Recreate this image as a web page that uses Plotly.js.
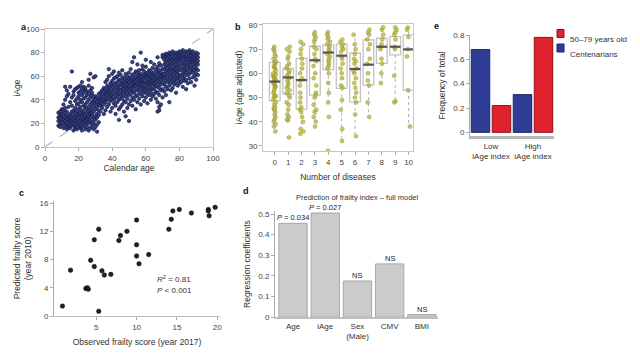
<!DOCTYPE html>
<html><head><meta charset="utf-8">
<script src="https://cdn.plot.ly/plotly-3.0.1.min.js"></script>
<style>html,body{margin:0;padding:0;background:#fff}#chart{width:640px;height:355px}</style>
</head><body><div id="chart"></div>
<script>
// ---------- Panel a: calendar age vs iAge (columns: [calendar age, iAge values...]) ----------
const ageColumns = [
 [8,18,22,25,29],[9,17,20,24,27,30],[10,19,23,26,21,28,32],[11,16,20,24,27,36,31],
 [12,18,22,25,29,40,33,51],[13,15,19,21,24,26,30,43,48],[14,17,20,23,27,34,45],
 [15,16,18,22,25,28,38,51],[16,19,21,24,26,30,35,64,42],[17,14,18,20,23,27,31,44,47],
 [18,16,19,22,25,29,33,39,49],[19,15,17,21,24,26,30,36,41,50],[20,18,20,23,25,28,32,37,43,46,51],
 [21,16,19,22,27,29,34,40,47,52],[22,14,17,21,24,26,31,38,44,49,55],[23,18,20,23,28,30,35,41,46,51],
 [24,15,19,22,25,27,33,36,42,48,50],[25,17,21,24,29,32,38,44,47],[26,14,20,23,26,30,34,40,45,52,57],
 [27,16,22,25,28,31,36,42,48,62],[28,18,21,27,29,33,38,44,50,46],[29,15,20,24,30,35,39,41,59],
 [30,17,23,26,32,37,40,43,60],[31,13,19,25,28,34,38,42],[32,21,27,31,36,40,45],
 [33,30,35,38,42,46],[34,33,37,40,44,48],[35,28,36,39,43,47,50],[36,31,38,41,45,49,55],
 [37,34,40,44,47,52,57],[38,36,42,45,48,50,60,66],[39,30,39,43,46,51,54],[40,33,41,44,48,52,56,62],
 [41,37,40,45,49,53,58,64],[42,28,35,42,46,50,54,59],[43,38,43,47,51,55,60],[44,23,32,40,45,49,52,57,63],
 [45,34,41,44,48,53,56,61],[46,36,42,46,50,54,58,65],[47,30,39,45,49,52,55,59],[48,26,38,43,47,51,54,57,62],
 [49,33,41,46,50,53,56,60],[50,22,36,44,48,51,55,58,63],[51,39,45,49,52,56,59,66],[52,35,42,47,50,54,57,61,72],
 [53,40,46,51,53,55,58,62,76],[54,32,43,48,52,56,59,64],[55,38,44,49,53,57,60,63,70],[56,41,47,51,54,58,61,65],
 [57,36,45,50,53,56,59,62,80],[58,43,48,52,55,57,60,66,69],[59,39,46,50,54,58,61,64],[60,42,47,51,55,59,62,68,74],
 [61,37,45,49,53,56,60,63],[62,44,48,52,55,58,61,65],[63,40,46,50,54,57,60,64,72],[64,43,49,53,56,59,62,67],
 [65,45,50,54,57,60,63,70],[66,41,47,52,55,58,61,66],[67,30,38,46,51,56,59,64,68,76],[68,31,34,44,50,54,58,62,65,71],
 [69,36,48,53,57,60,63,69],[70,42,49,55,59,61,62,66,76,78],
 [71,47,53,58,62,66,70,74,77],[72,44,51,56,60,64,68,72,76,79],[73,49,55,59,63,67,71,75,78],
 [74,38,52,57,61,65,69,73,77,80],[75,48,54,58,62,66,70,74,76,79],[76,50,56,60,64,67,71,73,78,81],
 [77,53,57,61,65,68,72,75,79],[78,46,55,59,63,66,70,74,77,80],[79,52,58,62,64,68,72,76,79],
 [80,54,57,60,66,69,73,75,78,81],[81,55,61,65,70,74,77,80],[82,51,58,62,67,71,75,78,82],
 [83,56,60,64,68,72,76,79],[84,49,57,63,66,70,74,77,81],[85,54,61,65,69,73,76,80],
 [86,58,62,67,71,75,78,82],[87,55,64,68,72,74,77,80],[88,59,63,66,70,73,76,79,81],
 [89,52,60,65,69,72,75,78],[90,57,62,67,71,74,77,80],[91,61,65,70,73,76,79]
];

// ---------- Panel b: iAge (age adjusted) by number of diseases ----------
const diseaseCounts = [0,1,2,3,4,5,6,7,8,9,10];
const bPoints = [
 [71,70,69.5,68,67,66,65,64.5,64,63,62,61,60,59.5,59,58,57.5,57,56.5,56,55,54.5,54,53,52,51,50.5,50,49,48,47,46,45.5,45,44,43,42,41,40,39,38,36,62.5,58.5,55.5],
 [71,70,69,67,66,64,63,62,61,60,59,58,57,56,55,54,53,52,51,50,48,47,45,43,42,41,40.5,33.5],
 [73,72,70,68,66,64,62,60,58,57,55,52,50,48,46,45,44,42,40,36,35,37],
 [77,76,75,74,73,71,70,68,66,65,63,60,58,55,52,51,50,47,45,44,42,40,38],
 [77,76,75,74,73,72,71,70,69,68,67,66,65,64,63,62,60,56,52,48,42,28],
 [74,73,72,71,70,69,67,66,64,62,60,58,55,54,49,45,37,32],
 [76,72,70,68,66,65,64,62,61,60,58,56,54,52,50,48,43,34],
 [78,77,76,74,72,70,66,64,60,57,55,48,42],
 [79,78,76,74,72,71,70,66,64,60,56],
 [79,78,77,76,74,71,70,59,48.5,48],
 [79,78,75,70,67,53,38]
];
const bQ1     = [48.7,51.4,45.1,51.0,61.5,53.8,48.2,55.1,64.1,67.6,53.1];
const bMedian = [56.6,58.3,57.2,65.4,68.6,67.3,61.8,63.6,71.0,71.0,69.9];
const bQ3     = [64.5,62.0,66.2,71.2,71.8,72.1,68.3,73.8,74.5,75.2,75.9];
const bWhiskLo= [36,40.5,35,38,48,32,34,42,56,48.5,38];
const bWhiskHi= [71,71,73,77,77,74,76,78,79,79,79];

// ---------- Panel e: frequency of total ----------
const eCategories = ['Low<br>iAge index','High<br>iAge index'];
const eCentenarians = [0.68,0.31];
const eMiddleAged = [0.22,0.78];

// ---------- Panel c: observed vs predicted frailty ----------
const frailObserved  = [0.8,1.8,3.7,3.9,4.0,4.3,4.75,4.75,5.3,5.3,5.7,6.0,6.8,7.8,8.0,8.8,10.0,10.0,10.0,10.3,11.5,14.0,14.3,14.5,15.3,16.8,18.9,18.9,19.0,19.75];
const frailPredicted = [1.4,6.5,3.9,4.0,3.8,7.9,7.0,10.8,12.3,0.66,6.4,5.8,5.9,10.7,11.4,12.0,13.6,10.1,8.5,7.4,8.7,12.3,13.7,14.9,15.1,14.6,15.1,14.9,14.2,15.4];

// ---------- Panel d: regression coefficients ----------
const dCategories = ['Age','iAge','Sex<br>(Male)','CMV','BMI'];
const dCoefficients = [0.455,0.505,0.175,0.258,0.012];
const dLabels = ['<i>P</i> = 0.034','<i>P</i> = 0.027','NS','NS','NS'];

// ---------- build ----------
const FONT = 'Liberation Sans, Arial, sans-serif';
const W = 640, H = 355;
const px = v => v / W, py = v => 1 - v / H;

const aX = [], aY = [];
ageColumns.forEach(col => { for (let i = 1; i < col.length; i++) { aX.push(col[0]); aY.push(col[i]); } });

const bX = [], bY = [];
bPoints.forEach((arr, k) => arr.forEach(v => { bX.push(diseaseCounts[k]); bY.push(v); }));

const medX = [], medY = [], whX = [], whY = [];
diseaseCounts.forEach((k, i) => {
  medX.push(k - 0.4, k + 0.4, null); medY.push(bMedian[i], bMedian[i], null);
  whX.push(k, k, null, k, k, null);
  whY.push(bQ3[i], bWhiskHi[i], null, bQ1[i], bWhiskLo[i], null);
});

const tickFont = {family: FONT, size: 8, color: '#444'};
const titleFont = {family: FONT, size: 8.5, color: '#333'};

const traces = [
  // a
  {type:'scatter', mode:'lines', x:[0,100], y:[0,100], xaxis:'x', yaxis:'y',
   line:{color:'#b5b5b5', width:1.2, dash:'dash'}, hoverinfo:'skip'},
  {type:'scatter', mode:'markers', x:aX, y:aY, xaxis:'x', yaxis:'y',
   marker:{size:3.4, color:'#3a4583', line:{color:'#0f1545', width:0.7}}},
  // b
  {type:'scatter', mode:'lines', x:whX, y:whY, xaxis:'x2', yaxis:'y2',
   line:{color:'#b0b0b0', width:1, dash:'dot'}, hoverinfo:'skip'},
  {type:'box', x:diseaseCounts, q1:bQ1, median:bMedian, q3:bQ3, lowerfence:bQ1, upperfence:bQ3,
   xaxis:'x2', yaxis:'y2', width:0.8, fillcolor:'rgba(255,255,255,0)',
   line:{color:'#c4c4c4', width:1.3}, boxpoints:false},
  {type:'box', x:bX, y:bY, xaxis:'x2', yaxis:'y2', width:0.8, boxpoints:'all', jitter:0.35, pointpos:0,
   fillcolor:'rgba(0,0,0,0)', line:{color:'rgba(0,0,0,0)', width:0},
   marker:{size:4, color:'rgba(178,178,40,0.7)', line:{color:'rgba(140,140,20,0.8)', width:0.5}}},
  {type:'scatter', mode:'lines', x:medX, y:medY, xaxis:'x2', yaxis:'y2',
   line:{color:'#555', width:2.2}, hoverinfo:'skip'},
  // e
  {type:'bar', name:'Centenarians', x:eCategories, y:eCentenarians, xaxis:'x3', yaxis:'y3',
   marker:{color:'#2f3d96', line:{color:'#1b2560', width:1}}},
  {type:'bar', name:'50–79 years old', x:eCategories, y:eMiddleAged, xaxis:'x3', yaxis:'y3',
   marker:{color:'#e0212e', line:{color:'#8e1219', width:1}}},
  // c
  {type:'scatter', mode:'markers', x:frailObserved, y:frailPredicted, xaxis:'x4', yaxis:'y4',
   marker:{size:4.5, color:'#222', line:{color:'#000', width:0.5}}},
  // d
  {type:'bar', x:dCategories, y:dCoefficients, xaxis:'x5', yaxis:'y5',
   marker:{color:'#cbcbcb', line:{color:'#a8a8a8', width:1}}}
];

function ax(extra) {
  return Object.assign({showgrid:false, zeroline:false, showline:true, linecolor:'#c8c8c8', linewidth:1,
    ticks:'outside', ticklen:3, tickcolor:'#aaa', tickfont:tickFont, fixedrange:true}, extra);
}

const annotations = [
  {text:'<b>a</b>', xref:'paper', yref:'paper', x:px(19), y:py(20), showarrow:false, font:{family:FONT,size:9,color:'#111'}},
  {text:'<b>b</b>', xref:'paper', yref:'paper', x:px(238), y:py(20), showarrow:false, font:{family:FONT,size:9,color:'#111'}},
  {text:'<b>e</b>', xref:'paper', yref:'paper', x:px(441), y:py(19), showarrow:false, font:{family:FONT,size:9,color:'#111'}},
  {text:'<b>c</b>', xref:'paper', yref:'paper', x:px(17), y:py(193), showarrow:false, font:{family:FONT,size:9,color:'#111'}},
  {text:'<b>d</b>', xref:'paper', yref:'paper', x:px(246), y:py(191), showarrow:false, font:{family:FONT,size:9,color:'#111'}},
  {text:'50–79 years old', xref:'paper', yref:'paper', x:px(568), y:py(33.5), xanchor:'left', showarrow:false, font:{family:FONT,size:8,color:'#333'}},
  {text:'Centenarians', xref:'paper', yref:'paper', x:px(568), y:py(48), xanchor:'left', showarrow:false, font:{family:FONT,size:8,color:'#333'}},
  {text:'<i>R</i><sup>2</sup> = 0.81<br><i>P</i> < 0.001', xref:'paper', yref:'paper', x:px(155), y:py(297), xanchor:'left', align:'left',
   showarrow:false, font:{family:FONT,size:8,color:'#333'}},
  {text:'Prediction of frailty index – full model', xref:'paper', yref:'paper', x:px(357), y:py(197), showarrow:false,
   font:{family:FONT,size:7.5,color:'#333'}}
];
dCategories.forEach((c, i) => annotations.push({
  text:dLabels[i], xref:'x5', yref:'y5', x:c, y:dCoefficients[i], yanchor:'bottom', yshift:-1,
  showarrow:false, font:{family:FONT, size:7.5, color:'#222'}
}));

const layout = {
  width: W, height: H, margin:{l:0,r:0,t:0,b:0}, paper_bgcolor:'#fff', plot_bgcolor:'rgba(0,0,0,0)',
  showlegend:false, barmode:'group', bargap:0, bargroupgap:0.12, boxmode:'overlay',
  font:{family:FONT, size:8, color:'#333'},
  // a
  xaxis: ax({domain:[px(45),px(213)], range:[0,100], tickvals:[0,20,40,60,80,100], mirror:true, anchor:'y',
    title:{text:'Calendar age', font:titleFont, standoff:3}}),
  yaxis: ax({domain:[py(147),py(29)], range:[0,100], tickvals:[0,20,40,60,80,100], mirror:true, anchor:'x',
    title:{text:'iAge', font:titleFont, standoff:4}}),
  // b
  xaxis2: ax({domain:[px(263),px(413)], range:[-0.88,10.33], tickvals:diseaseCounts, mirror:true, anchor:'y2',
    title:{text:'Number of diseases', font:titleFont, standoff:8}}),
  yaxis2: ax({domain:[py(151),py(24)], range:[27.9,80.4], tickvals:[30,40,50,60,70,80], mirror:true, anchor:'x2',
    title:{text:'iAge (age adjusted)', font:titleFont, standoff:4}}),
  // e
  xaxis3: ax({domain:[px(470),px(554)], range:[-0.5,1.5], ticks:'', linecolor:'#b8b8b8', linewidth:3, anchor:'y3',
    tickfont:{family:FONT, size:8, color:'#333'}}),
  yaxis3: ax({domain:[py(136),py(35)], range:[-0.03,0.8], tickvals:[0,0.2,0.4,0.6,0.8], ticktext:['0','0.2','0.4','0.6','0.8'],
    linecolor:'#aaa', anchor:'x3', title:{text:'Frequency of total', font:titleFont, standoff:6}}),
  // c
  xaxis4: ax({domain:[px(54),px(220)], range:[-0.25,20.35], tickvals:[5,10,15,20], linecolor:'#bbb', anchor:'y4',
    title:{text:'Observed frailty score (year 2017)', font:titleFont, standoff:8}}),
  yaxis4: ax({domain:[py(316),py(201)], range:[0,16.3], tickvals:[0,4,8,12,16], linecolor:'#aaa', anchor:'x4',
    title:{text:'Predicted frailty score<br>(year 2010)', font:titleFont, standoff:6}}),
  // d
  xaxis5: ax({domain:[px(275),px(438)], range:[-0.56,4.5], ticks:'', linecolor:'#c0c0c0', linewidth:2, anchor:'y5',
    tickfont:{family:FONT, size:8, color:'#333'}}),
  yaxis5: ax({domain:[py(317),py(211)], range:[0,0.515], tickvals:[0,0.1,0.2,0.3,0.4,0.5], ticktext:['0','0.1','0.2','0.3','0.4','0.5'],
    linecolor:'#aaa', anchor:'x5', title:{text:'Regression coefficients', font:titleFont, standoff:6}}),
  shapes: [
    {type:'rect', xref:'paper', yref:'paper', x0:px(557), x1:px(564), y0:py(37.5), y1:py(29.5),
     fillcolor:'#e0212e', line:{color:'#8e1219', width:1}},
    {type:'rect', xref:'paper', yref:'paper', x0:px(557), x1:px(564), y0:py(52), y1:py(44),
     fillcolor:'#2f3d96', line:{color:'#1b2560', width:1}}
  ],
  annotations: annotations
};

Plotly.newPlot('chart', traces, layout, {staticPlot:true, displayModeBar:false});
</script>
</body></html>
